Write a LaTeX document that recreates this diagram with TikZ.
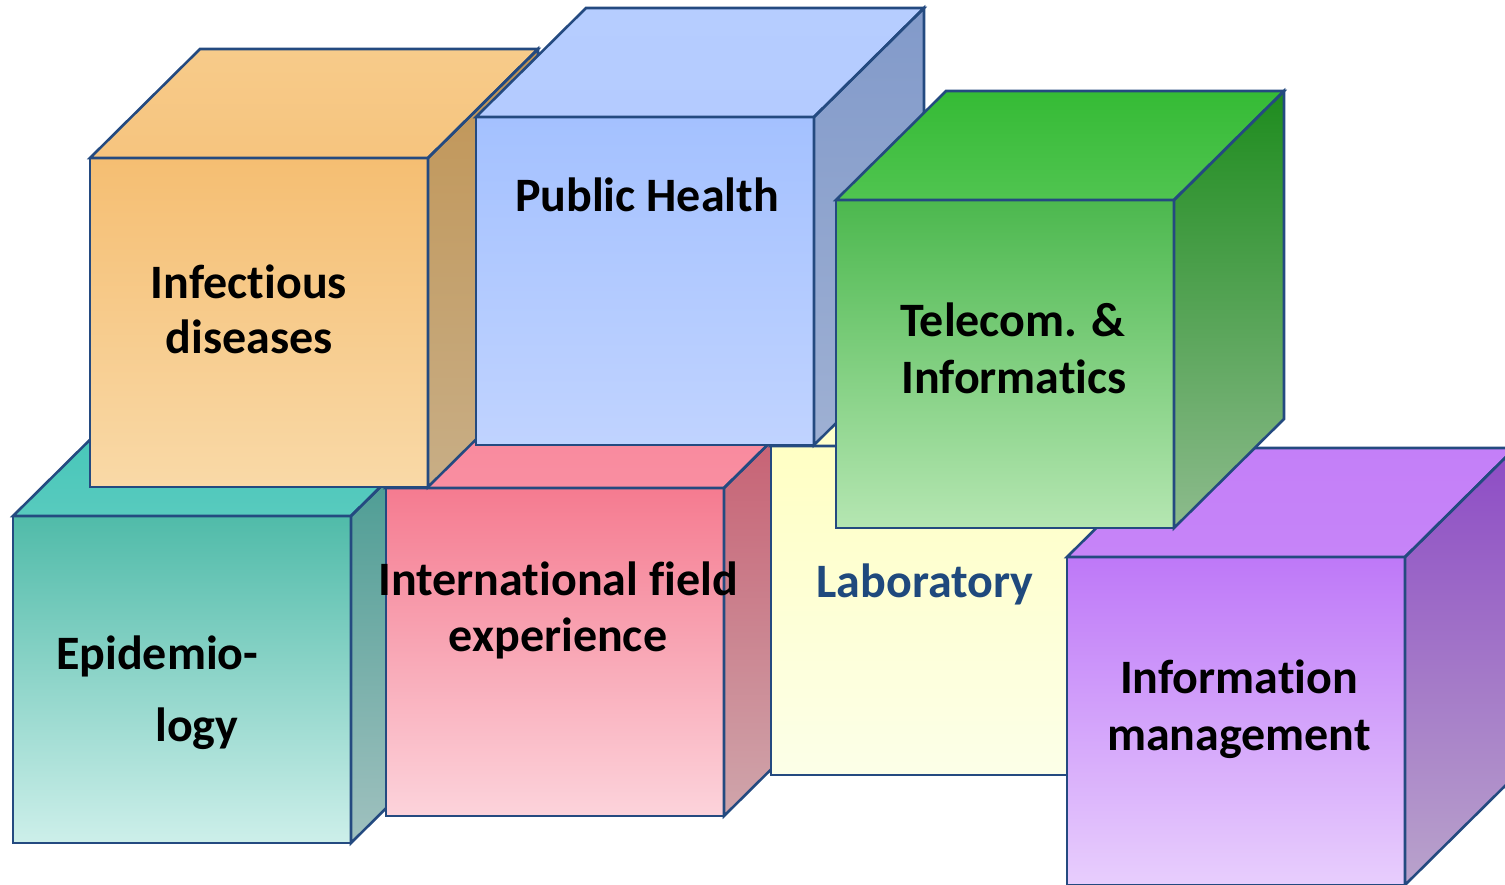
\documentclass[tikz,border=0pt]{standalone}
\usepackage{fontspec}
\setsansfont{Carlito}[Ligatures=NoCommon]
\definecolor{edgeblue}{RGB}{36,74,128}
\definecolor{labblue}{RGB}{31,73,125}
% Epidemiology
\definecolor{epiF1}{RGB}{80,187,169}\definecolor{epiF2}{RGB}{205,239,234}
\definecolor{epiT1}{RGB}{66,198,184}\definecolor{epiT2}{RGB}{88,202,190}
\definecolor{epiS1}{RGB}{62,150,140}\definecolor{epiS2}{RGB}{160,193,191}
% International
\definecolor{intF1}{RGB}{245,123,144}\definecolor{intF2}{RGB}{252,211,219}
\definecolor{intT1}{RGB}{248,134,154}\definecolor{intT2}{RGB}{249,142,161}
\definecolor{intS1}{RGB}{198,88,108}\definecolor{intS2}{RGB}{207,165,171}
% Laboratory
\definecolor{labF1}{RGB}{255,255,196}\definecolor{labF2}{RGB}{252,255,232}
\definecolor{labT1}{RGB}{255,255,200}\definecolor{labT2}{RGB}{255,255,204}
\definecolor{labS1}{RGB}{255,255,200}\definecolor{labS2}{RGB}{250,252,225}
% Infectious
\definecolor{infF1}{RGB}{245,190,114}\definecolor{infF2}{RGB}{249,217,167}
\definecolor{infT1}{RGB}{247,203,138}\definecolor{infT2}{RGB}{246,196,126}
\definecolor{infS1}{RGB}{192,148,84}\definecolor{infS2}{RGB}{200,174,134}
% Public Health
\definecolor{phF1}{RGB}{164,193,255}\definecolor{phF2}{RGB}{192,211,255}
\definecolor{phT1}{RGB}{182,205,255}\definecolor{phT2}{RGB}{180,203,255}
\definecolor{phS1}{RGB}{130,154,202}\definecolor{phS2}{RGB}{158,176,211}
% Information
\definecolor{imF1}{RGB}{190,120,248}\definecolor{imF2}{RGB}{232,206,253}
\definecolor{imT1}{RGB}{196,127,248}\definecolor{imT2}{RGB}{198,132,248}
\definecolor{imS1}{RGB}{141,75,197}\definecolor{imS2}{RGB}{185,163,203}
% Telecom
\definecolor{telF1}{RGB}{76,184,78}\definecolor{telF2}{RGB}{181,230,178}
\definecolor{telT1}{RGB}{53,187,53}\definecolor{telT2}{RGB}{80,196,80}
\definecolor{telS1}{RGB}{30,140,30}\definecolor{telS2}{RGB}{141,187,141}
\tikzset{
  edge/.style={draw=edgeblue,line width=2.6pt,line join=miter},
  lbl/.style={font=\sffamily\bfseries\fontsize{48}{56}\selectfont,text=black,anchor=base,inner sep=0pt},
}
% #1 x, #2 y (front top-left), #3 colour prefix, #4 height
\newcommand{\drawcube}[4]{%
  \fill[top color=#3T1,bottom color=#3T2] (#1,#2) -- ({#1+110},{#2-109}) -- ({#1+448},{#2-109}) -- ({#1+338},#2) -- cycle;
  \fill[top color=#3S1,bottom color=#3S2] ({#1+338},#2) -- ({#1+448},{#2-109}) -- ({#1+448},{#2+#4-109}) -- ({#1+338},{#2+#4}) -- cycle;
  \fill[top color=#3F1,bottom color=#3F2] (#1,#2) rectangle ({#1+338},{#2+#4});
  \draw[edge] (#1,#2) -- ({#1+110},{#2-109}) -- ({#1+448},{#2-109}) -- ({#1+338},#2) -- cycle;
  \draw[edge] ({#1+338},#2) -- ({#1+448},{#2-109}) -- ({#1+448},{#2+#4-109}) -- ({#1+338},{#2+#4}) -- cycle;
  \draw[edge] (#1,#2) rectangle ({#1+338},{#2+#4});
}
\begin{document}
\begin{tikzpicture}[x=1pt,y=-1pt]
\useasboundingbox (0,0) rectangle (1505,885);
\clip (0,0) rectangle (1505,885);
\drawcube{13}{516}{epi}{327}
\drawcube{386}{488}{int}{328}
\drawcube{771}{446}{lab}{329}
\drawcube{90}{158}{inf}{329}
\drawcube{476}{117}{ph}{328}
\drawcube{1067}{557}{im}{328}
\drawcube{836}{200}{tel}{328}
% Labels
\node[lbl] (inf1) at (249,299) {Infectious};
\node[lbl] (inf2) at (249,354) {diseases};
\node[lbl] (ph) at (647,212) {Public Health};
\node[lbl] (tel1) at (1013,337) {Telecom. \&};
\node[lbl] (tel2) at (1014,393) {Informatics};
\node[lbl,anchor=base west] (epi1) at (56,669) {Epidemio-};
\node[lbl,anchor=base west] (epi2) at (155,741) {logy};
\node[lbl] (int1) at (558,595) {International field};
\node[lbl] (int2) at (558,651) {experience};
\node[lbl,text=labblue] (lab) at (925,597) {Laboratory};
\node[lbl] (info1) at (1239,693) {Information};
\node[lbl] (info2) at (1239,750) {management};
\end{tikzpicture}
\end{document}
